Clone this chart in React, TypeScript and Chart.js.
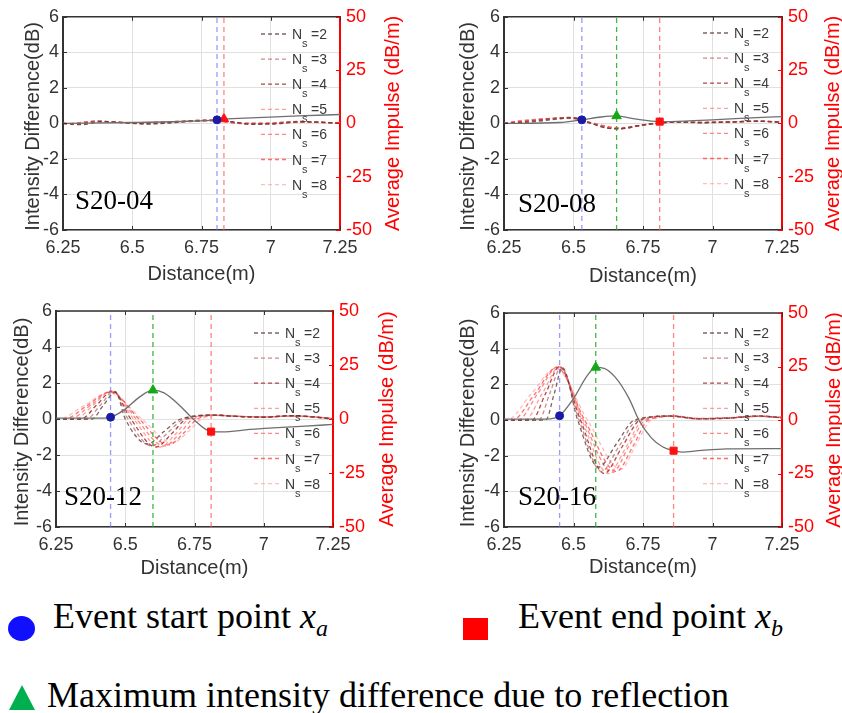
import React, { useEffect, useRef } from 'react';
import { Chart, registerables } from 'chart.js';

Chart.register(...registerables);

type Pt = [number, number];

// ---------- shared axis / legend data ----------
const xTicks = [6.25, 6.5, 6.75, 7, 7.25];
const leftTicks = [-6, -4, -2, 0, 2, 4, 6];
const rightTicks = [-50, -25, 0, 25, 50];
const nsValues = [2, 3, 4, 5, 6, 7, 8];
const panelLabels = ['S20-04', 'S20-08', 'S20-12', 'S20-16'];
const xTitle = 'Distance(m)';
const leftTitle = 'Intensity Difference(dB)';
const rightTitle = 'Average Impulse (dB/m)';

// ---------- S20-04 ----------
const intensity04: Pt[] = [[6.25, 0], [6.5, 0.05], [6.7, 0.12], [6.806, 0.2], [6.831, 0.25], [6.95, 0.32], [7.1, 0.42], [7.25, 0.5]];
const impulse04: Pt[][] = [
  [[6.25, 0], [6.32, -0.6], [6.39, 0.9], [6.46, 0.4], [6.56, -0.3], [6.67, 0.5], [6.78, 1.4], [6.86, 0.8], [6.93, -0.4], [7.02, -0.2], [7.12, 0.8], [7.25, 0]],
  [[6.25, 0], [6.31, -0.5], [6.38, 1.0], [6.45, 0.5], [6.55, -0.2], [6.66, 0.6], [6.77, 1.5], [6.85, 0.9], [6.92, -0.3], [7.01, -0.2], [7.11, 0.9], [7.25, 0.1]],
  [[6.25, 0], [6.30, -0.4], [6.37, 1.1], [6.44, 0.6], [6.54, -0.1], [6.65, 0.6], [6.76, 1.5], [6.84, 1.0], [6.91, -0.2], [7.0, -0.1], [7.1, 0.9], [7.25, 0.1]],
  [[6.25, 0], [6.29, -0.3], [6.36, 1.0], [6.43, 0.7], [6.53, 0], [6.64, 0.7], [6.75, 1.4], [6.83, 1.0], [6.9, -0.1], [6.99, 0], [7.09, 0.8], [7.25, 0.2]],
  [[6.25, 0], [6.29, -0.2], [6.35, 0.9], [6.42, 0.8], [6.52, 0.1], [6.63, 0.7], [6.74, 1.3], [6.82, 1.1], [6.89, 0], [6.98, 0], [7.08, 0.7], [7.25, 0.2]],
  [[6.25, 0], [6.28, -0.1], [6.34, 0.8], [6.41, 0.8], [6.51, 0.2], [6.62, 0.7], [6.73, 1.2], [6.81, 1.1], [6.88, 0.1], [6.97, 0.1], [7.07, 0.6], [7.25, 0.3]],
  [[6.25, 0], [6.28, 0], [6.33, 0.7], [6.40, 0.8], [6.50, 0.3], [6.61, 0.7], [6.72, 1.1], [6.80, 1.1], [6.87, 0.2], [6.96, 0.1], [7.06, 0.5], [7.25, 0.3]],
];
const start04: Pt = [6.806, 0.2];
const peak04: Pt | null = null;
const end04: Pt = [6.831, 0.25];

// ---------- S20-08 ----------
const intensity08: Pt[] = [[6.25, 0], [6.45, 0.05], [6.53, 0.2], [6.6, 0.36], [6.655, 0.42], [6.72, 0.25], [6.81, 0.1], [6.9, 0.13], [7.0, 0.2], [7.1, 0.28], [7.25, 0.38]];
const impulse08: Pt[][] = [
  [[6.25, 0], [6.35, 0.7], [6.44, 2.0], [6.5, 2.6], [6.555, 0.3], [6.62, -2.2], [6.66, -2.5], [6.72, -1.3], [6.79, 0], [6.87, 0.6], [6.96, 0.3], [7.06, 0.6], [7.16, 1.0], [7.25, 0.5]],
  [[6.25, 0], [6.34, 0.8], [6.43, 2.1], [6.495, 2.7], [6.56, 0.2], [6.625, -2.2], [6.665, -2.5], [6.725, -1.2], [6.79, 0], [6.87, 0.6], [6.96, 0.4], [7.06, 0.6], [7.16, 1.0], [7.25, 0.5]],
  [[6.25, 0], [6.33, 0.9], [6.42, 2.2], [6.49, 2.8], [6.565, 0.1], [6.63, -2.3], [6.67, -2.5], [6.73, -1.2], [6.795, 0], [6.87, 0.7], [6.96, 0.4], [7.06, 0.7], [7.16, 1.1], [7.25, 0.6]],
  [[6.25, 0], [6.32, 0.9], [6.41, 2.2], [6.485, 2.7], [6.57, 0], [6.635, -2.2], [6.675, -2.4], [6.735, -1.1], [6.8, 0], [6.875, 0.7], [6.96, 0.4], [7.06, 0.7], [7.16, 1.1], [7.25, 0.6]],
  [[6.25, 0], [6.31, 1.0], [6.4, 2.2], [6.48, 2.6], [6.575, -0.1], [6.64, -2.1], [6.68, -2.3], [6.74, -1.0], [6.8, 0], [6.875, 0.7], [6.96, 0.5], [7.06, 0.7], [7.16, 1.0], [7.25, 0.7]],
  [[6.25, 0], [6.3, 1.0], [6.39, 2.1], [6.475, 2.5], [6.58, -0.2], [6.645, -2.0], [6.685, -2.2], [6.745, -0.9], [6.805, 0], [6.88, 0.7], [6.96, 0.5], [7.06, 0.7], [7.16, 1.0], [7.25, 0.7]],
  [[6.25, 0], [6.29, 1.0], [6.38, 2.0], [6.47, 2.4], [6.585, -0.3], [6.65, -1.9], [6.69, -2.1], [6.75, -0.8], [6.81, 0], [6.88, 0.6], [6.96, 0.5], [7.06, 0.7], [7.16, 0.9], [7.25, 0.7]],
];
const start08: Pt = [6.53, 0.2];
const peak08: Pt | null = [6.655, 0.42];
const end08: Pt = [6.81, 0.1];

// ---------- S20-12 ----------
const intensity12: Pt[] = [[6.25, 0.05], [6.42, 0.05], [6.447, 0.1], [6.5, 0.55], [6.55, 1.2], [6.6, 1.6], [6.64, 1.45], [6.7, 0.7], [6.745, 0], [6.81, -0.7], [6.85, -0.72], [6.95, -0.58], [7.05, -0.48], [7.15, -0.4], [7.25, -0.3]];
const impulse12: Pt[][] = [
  [[6.25, 0], [6.38, 0], [6.42, 6.2], [6.465, 12.5], [6.5, 0], [6.58, -11.5], [6.64, -5.8], [6.7, 0], [6.82, 1.8], [6.9, 1.2], [7.0, 0.8], [7.1, 1.6], [7.17, 1.0], [7.25, 0]],
  [[6.25, 0], [6.36, 0], [6.41, 6.4], [6.46, 12.8], [6.51, 0], [6.595, -12.5], [6.655, -6.2], [6.71, 0], [6.82, 1.8], [6.9, 1.2], [7.0, 0.8], [7.1, 1.5], [7.17, 1.0], [7.25, 0]],
  [[6.25, 0], [6.34, 0], [6.397, 6.5], [6.455, 13], [6.52, 0], [6.61, -13], [6.67, -6.5], [6.72, 0], [6.825, 1.8], [6.9, 1.2], [7.0, 0.9], [7.1, 1.5], [7.17, 1.1], [7.25, 0.1]],
  [[6.25, 0], [6.32, 0], [6.385, 6.5], [6.45, 13], [6.53, 0], [6.625, -13], [6.685, -6.5], [6.73, 0], [6.83, 1.8], [6.9, 1.3], [7.0, 0.9], [7.1, 1.4], [7.17, 1.1], [7.25, 0.1]],
  [[6.25, 0], [6.3, 0], [6.375, 6.4], [6.45, 12.8], [6.54, 0], [6.64, -12.5], [6.7, -6.2], [6.745, 0], [6.83, 1.7], [6.9, 1.3], [7.0, 0.9], [7.1, 1.4], [7.17, 1.1], [7.25, 0.2]],
  [[6.25, 0], [6.28, 0], [6.362, 6.2], [6.445, 12.5], [6.55, 0], [6.655, -12], [6.715, -6], [6.76, 0], [6.835, 1.7], [6.9, 1.3], [7.0, 1.0], [7.1, 1.3], [7.17, 1.1], [7.25, 0.2]],
  [[6.25, 0], [6.26, 0], [6.35, 6.1], [6.44, 12.2], [6.56, 0], [6.67, -11], [6.73, -5.5], [6.775, 0], [6.84, 1.6], [6.9, 1.3], [7.0, 1.0], [7.1, 1.3], [7.17, 1.0], [7.25, 0.2]],
];
const start12: Pt = [6.447, 0.1];
const peak12: Pt | null = [6.6, 1.6];
const end12: Pt = [6.81, -0.7];

// ---------- S20-16 ----------
const intensity16: Pt[] = [[6.25, 0.05], [6.4, 0.05], [6.43, 0.1], [6.45, 0.24], [6.5, 1.2], [6.55, 2.5], [6.58, 2.95], [6.61, 2.9], [6.65, 2.4], [6.7, 1.2], [6.735, 0], [6.78, -1.0], [6.82, -1.5], [6.86, -1.72], [6.89, -1.8], [6.95, -1.72], [7.05, -1.62], [7.25, -1.6]];
const impulse16: Pt[][] = [
  [[6.25, 0], [6.4, 0], [6.43, 12], [6.46, 24.5], [6.515, 0], [6.59, -22], [6.655, -11], [6.72, 0], [6.85, 1.8], [6.95, 0.5], [7.05, 0.8], [7.17, 1.8], [7.25, 1.0]],
  [[6.25, 0], [6.375, 0], [6.415, 12.5], [6.455, 24.5], [6.52, 0], [6.6, -24], [6.665, -12], [6.73, 0], [6.85, 1.8], [6.95, 0.5], [7.05, 0.8], [7.17, 1.8], [7.25, 1.0]],
  [[6.25, 0], [6.35, 0], [6.4, 12.5], [6.45, 25], [6.525, 0], [6.61, -25], [6.675, -12.5], [6.74, 0], [6.855, 1.9], [6.95, 0.6], [7.05, 0.9], [7.17, 1.9], [7.25, 1.1]],
  [[6.25, 0], [6.325, 0], [6.388, 12.5], [6.45, 25], [6.53, 0], [6.625, -25], [6.69, -12.5], [6.75, 0], [6.86, 1.9], [6.95, 0.6], [7.05, 0.9], [7.17, 1.8], [7.25, 1.1]],
  [[6.25, 0], [6.3, 0], [6.372, 12.5], [6.445, 25], [6.535, 0], [6.64, -24.5], [6.7, -12], [6.76, 0], [6.86, 1.8], [6.95, 0.6], [7.05, 0.9], [7.17, 1.7], [7.25, 1.2]],
  [[6.25, 0], [6.28, 0], [6.36, 12], [6.44, 24.5], [6.54, 0], [6.655, -24], [6.715, -12], [6.77, 0], [6.865, 1.8], [6.95, 0.7], [7.05, 1.0], [7.17, 1.7], [7.25, 1.2]],
  [[6.25, 0], [6.26, 0], [6.347, 12], [6.435, 24], [6.55, 0], [6.67, -23], [6.725, -11.5], [6.78, 0], [6.87, 1.7], [6.95, 0.7], [7.05, 1.0], [7.17, 1.6], [7.25, 1.2]],
];
const start16: Pt = [6.45, 0.24];
const peak16: Pt | null = [6.58, 2.95];
const end16: Pt = [6.86, -1.72];

// ---------- styles (kept apart from the data) ----------
const FONT_SANS = '"Liberation Sans", Arial, Helvetica, sans-serif';
const FONT_SERIF = '"Liberation Serif", "Times New Roman", Times, serif';
const nsColors = [
  'rgba(95,60,60,0.8)',
  'rgba(185,100,100,0.75)',
  'rgba(160,25,25,0.8)',
  'rgba(255,120,120,0.7)',
  'rgba(255,95,95,0.75)',
  'rgba(255,60,60,0.75)',
  'rgba(255,155,155,0.65)',
];
const AXIS_COLOR = '#333333';
const GRID_COLOR = '#e0e0e0';
const RED = '#ff0000';

interface Layout {
  canvas: { x: number; y: number; w: number; h: number };
  area: { L: number; R: number; T: number; B: number };
  leftTitleX: number;
  rightTitleX: number;
  bottomTitleY: number;
  labelX: number;
  labelY: number;
  legendY: number;
  endShape: 'rect' | 'triangle';
}

const layouts: Layout[] = [
  { canvas: { x: 0, y: 0, w: 421, h: 290 }, area: { L: 63, R: 340, T: 15, B: 230 }, leftTitleX: 33, rightTitleX: 393, bottomTitleY: 274, labelX: 75, labelY: 209, legendY: 34, endShape: 'triangle' },
  { canvas: { x: 421, y: 0, w: 440, h: 290 }, area: { L: 504, R: 782, T: 15, B: 230 }, leftTitleX: 468, rightTitleX: 833, bottomTitleY: 276, labelX: 518, labelY: 212, legendY: 33, endShape: 'rect' },
  { canvas: { x: 0, y: 290, w: 421, h: 300 }, area: { L: 56, R: 333, T: 311, B: 527 }, leftTitleX: 22, rightTitleX: 387, bottomTitleY: 568, labelX: 64, labelY: 505, legendY: 333, endShape: 'rect' },
  { canvas: { x: 421, y: 290, w: 440, h: 300 }, area: { L: 504, R: 782, T: 313, B: 527 }, leftTitleX: 468, rightTitleX: 834, bottomTitleY: 567, labelX: 518, labelY: 505, legendY: 333, endShape: 'rect' },
];

interface PanelData {
  label: string;
  intensity: Pt[];
  impulse: Pt[][];
  start: Pt;
  peak: Pt | null;
  end: Pt;
}

const panels: PanelData[] = [
  { label: panelLabels[0], intensity: intensity04, impulse: impulse04, start: start04, peak: peak04, end: end04 },
  { label: panelLabels[1], intensity: intensity08, impulse: impulse08, start: start08, peak: peak08, end: end08 },
  { label: panelLabels[2], intensity: intensity12, impulse: impulse12, start: start12, peak: peak12, end: end12 },
  { label: panelLabels[3], intensity: intensity16, impulse: impulse16, start: start16, peak: peak16, end: end16 },
];

const toXY = (pts: Pt[]) => pts.map(([x, y]) => ({ x, y }));

function Panel({ data, layout }: { data: PanelData; layout: Layout }) {
  const ref = useRef<HTMLCanvasElement | null>(null);

  useEffect(() => {
    const canvas = ref.current;
    if (!canvas) return;
    const c = layout.canvas;
    const a = layout.area;
    const yMin = leftTicks[0];
    const yMax = leftTicks[leftTicks.length - 1];

    const datasets: any[] = [];
    datasets.push({
      data: toXY([data.start]), yAxisID: 'y', showLine: false, pointStyle: 'circle', pointRadius: 4,
      pointBackgroundColor: '#1a1aa6', pointBorderColor: '#1a1aa6', order: 0,
    });
    if (data.peak) {
      datasets.push({
        data: toXY([data.peak]), yAxisID: 'y', showLine: false, pointStyle: 'triangle', pointRadius: 5.5,
        pointBackgroundColor: '#14a814', pointBorderColor: '#14a814', order: 0,
      });
    }
    datasets.push({
      data: toXY([data.end]), yAxisID: 'y', showLine: false, pointStyle: layout.endShape,
      pointRadius: layout.endShape === 'rect' ? 5 : 5.5,
      pointBackgroundColor: '#ff1010', pointBorderColor: '#ff1010', order: 0,
    });
    const vline = (x: number, color: string) => ({
      data: [{ x, y: yMin }, { x, y: yMax }], yAxisID: 'y', borderColor: color, borderWidth: 1.3,
      borderDash: [5, 4], pointRadius: 0, order: 1,
    });
    datasets.push(vline(data.start[0], 'rgba(110,110,255,0.7)'));
    if (data.peak) datasets.push(vline(data.peak[0], 'rgba(30,170,30,0.85)'));
    datasets.push(vline(data.end[0], 'rgba(255,90,90,0.75)'));
    datasets.push({
      data: toXY(data.intensity), yAxisID: 'y', borderColor: '#6f6f6f', borderWidth: 1.3,
      pointRadius: 0, cubicInterpolationMode: 'monotone', order: 2,
    });
    data.impulse.forEach((curve, i) => {
      datasets.push({
        data: toXY(curve), yAxisID: 'y2', borderColor: nsColors[i], borderWidth: 1.3,
        borderDash: [4, 3], pointRadius: 0, cubicInterpolationMode: 'monotone', order: 3,
      });
    });

    const tickFont = { family: FONT_SANS, size: 18 };

    const decor = {
      id: 'decor',
      afterDraw(chart: any) {
        const ctx = chart.ctx as CanvasRenderingContext2D;
        const ca = chart.chartArea;
        const sx = chart.scales.x;
        const sy = chart.scales.y;
        const sy2 = chart.scales.y2;
        ctx.save();
        ctx.strokeStyle = AXIS_COLOR;
        ctx.lineWidth = 1.5;
        ctx.beginPath();
        ctx.moveTo(ca.left, ca.top);
        ctx.lineTo(ca.right, ca.top);
        ctx.stroke();
        ctx.lineWidth = 1;
        xTicks.forEach((v) => {
          const px = Math.round(sx.getPixelForValue(v)) + 0.5;
          ctx.beginPath();
          ctx.moveTo(px, ca.bottom); ctx.lineTo(px, ca.bottom - 4);
          ctx.moveTo(px, ca.top); ctx.lineTo(px, ca.top + 4);
          ctx.stroke();
        });
        leftTicks.forEach((v) => {
          const py = Math.round(sy.getPixelForValue(v)) + 0.5;
          ctx.beginPath();
          ctx.moveTo(ca.left, py); ctx.lineTo(ca.left + 4, py);
          ctx.stroke();
        });
        ctx.strokeStyle = RED;
        rightTicks.forEach((v) => {
          const py = Math.round(sy2.getPixelForValue(v)) + 0.5;
          ctx.beginPath();
          ctx.moveTo(ca.right, py); ctx.lineTo(ca.right - 4, py);
          ctx.stroke();
        });

        // legend
        const lx0 = ca.right - 79;
        const lx1 = ca.right - 52;
        nsValues.forEach((n, i) => {
          const y = layout.legendY - c.y + i * 25.1;
          ctx.strokeStyle = nsColors[i];
          ctx.lineWidth = 1.3;
          ctx.setLineDash([4, 3]);
          ctx.beginPath();
          ctx.moveTo(lx0, y); ctx.lineTo(lx1, y);
          ctx.stroke();
          ctx.setLineDash([]);
          ctx.fillStyle = '#3a3a3a';
          ctx.textAlign = 'left';
          ctx.textBaseline = 'alphabetic';
          ctx.font = `14px ${FONT_SANS}`;
          ctx.fillText('N', ca.right - 48, y + 5);
          ctx.font = `11px ${FONT_SANS}`;
          ctx.fillText('s', ca.right - 38, y + 13);
          ctx.font = `14px ${FONT_SANS}`;
          ctx.fillText('=' + n, ca.right - 29, y + 5);
        });

        // axis titles
        const cy = (ca.top + ca.bottom) / 2;
        ctx.font = `20px ${FONT_SANS}`;
        ctx.textAlign = 'center';
        ctx.textBaseline = 'middle';
        ctx.fillStyle = '#333333';
        ctx.fillText(xTitle, (ca.left + ca.right) / 2, layout.bottomTitleY - c.y);
        ctx.save();
        ctx.translate(layout.leftTitleX - c.x, cy + 3);
        ctx.rotate(-Math.PI / 2);
        ctx.fillText(leftTitle, 0, 0);
        ctx.restore();
        ctx.save();
        ctx.fillStyle = RED;
        ctx.translate(layout.rightTitleX - c.x, cy);
        ctx.rotate(-Math.PI / 2);
        ctx.fillText(rightTitle, 0, 0);
        ctx.restore();

        // panel label
        ctx.font = `27px ${FONT_SERIF}`;
        ctx.fillStyle = '#000000';
        ctx.textAlign = 'left';
        ctx.textBaseline = 'alphabetic';
        ctx.fillText(data.label, layout.labelX - c.x, layout.labelY - c.y);
        ctx.restore();
      },
    };

    const chart = new Chart(canvas, {
      type: 'line',
      data: { datasets },
      options: {
        animation: false,
        responsive: false,
        maintainAspectRatio: false,
        parsing: false as any,
        layout: { padding: { top: a.T - c.y, left: 0, right: 0, bottom: 0 } },
        plugins: { legend: { display: false }, tooltip: { enabled: false }, title: { display: false } },
        scales: {
          x: {
            type: 'linear', position: 'bottom', min: xTicks[0], max: xTicks[xTicks.length - 1],
            afterBuildTicks: (s: any) => { s.ticks = xTicks.map((v) => ({ value: v })); },
            afterFit: (s: any) => { s.height = c.y + c.h - a.B; },
            grid: { color: GRID_COLOR, drawTicks: false, lineWidth: 1 },
            border: { color: AXIS_COLOR, width: 1.5 },
            ticks: { padding: 7, font: tickFont, color: '#333333', maxRotation: 0, autoSkip: false, callback: (v: any) => String(v) },
          },
          y: {
            type: 'linear', position: 'left', min: yMin, max: yMax,
            afterBuildTicks: (s: any) => { s.ticks = leftTicks.map((v) => ({ value: v })); },
            afterFit: (s: any) => { s.width = a.L - c.x; },
            grid: { color: GRID_COLOR, drawTicks: false, lineWidth: 1 },
            border: { color: AXIS_COLOR, width: 2 },
            ticks: { padding: 4, font: tickFont, color: '#333333', callback: (v: any) => String(v) },
          },
          y2: {
            type: 'linear', position: 'right', min: rightTicks[0], max: rightTicks[rightTicks.length - 1],
            afterBuildTicks: (s: any) => { s.ticks = rightTicks.map((v) => ({ value: v })); },
            afterFit: (s: any) => { s.width = c.x + c.w - a.R; },
            grid: { display: false, drawTicks: false },
            border: { color: RED, width: 2 },
            ticks: { padding: 6, font: tickFont, color: RED, callback: (v: any) => String(v) },
          },
        },
      } as any,
      plugins: [decor],
    });
    return () => chart.destroy();
  }, [data, layout]);

  const c = layout.canvas;
  return (
    <canvas
      ref={ref}
      width={c.w}
      height={c.h}
      style={{ position: 'absolute', left: c.x, top: c.y, width: c.w, height: c.h }}
    />
  );
}

const legendText = { position: 'absolute' as const, fontFamily: FONT_SERIF, fontSize: 36, lineHeight: '36px', color: '#000', whiteSpace: 'nowrap' as const };
const subStyle = { fontStyle: 'italic' as const, fontSize: 24, verticalAlign: '-8px' };

export default function App() {
  return (
    <div style={{ position: 'absolute', left: 0, top: 0, width: 842, height: 713, overflow: 'hidden', background: '#ffffff' }}>
      {panels.map((p, i) => (
        <Panel key={p.label} data={p} layout={layouts[i]} />
      ))}
      <div style={{ position: 'absolute', left: 8, top: 616, width: 27, height: 25, borderRadius: '50%', background: '#1010ff' }} />
      <div style={{ ...legendText, left: 53, top: 598 }}>
        Event start point <i>x</i><span style={subStyle}>a</span>
      </div>
      <div style={{ position: 'absolute', left: 463, top: 618, width: 25, height: 22, background: '#ff0000' }} />
      <div style={{ ...legendText, left: 518, top: 598 }}>
        Event end point <i>x</i><span style={subStyle}>b</span>
      </div>
      <div style={{ position: 'absolute', left: 9, top: 685, width: 26, height: 25, background: '#00b050', clipPath: 'polygon(50% 0%, 100% 100%, 0% 100%)' }} />
      <div style={{ ...legendText, left: 47, top: 677 }}>
        Maximum intensity difference due to reflection
      </div>
    </div>
  );
}
